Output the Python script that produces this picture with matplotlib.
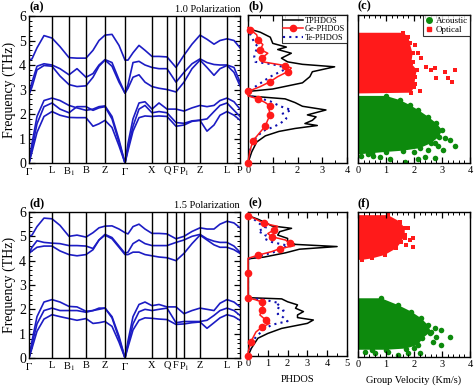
import matplotlib
matplotlib.use("Agg")
import matplotlib.pyplot as plt
from matplotlib.lines import Line2D
from matplotlib.ticker import MultipleLocator

plt.rcParams['font.family'] = ['Liberation Serif', 'DejaVu Serif']
plt.rcParams['mathtext.fontset'] = 'stix'

# ---------------- band structure data ----------------
# path coordinate (arbitrary units along the k-path)
kpath = [0, 3, 8, 15, 23, 31, 40, 48, 57, 64, 70, 76, 83, 90, 96, 99, 104, 110, 116,
         123, 130, 138, 147, 155, 163, 171, 178, 185, 191, 198, 205, 211]
sym_pos = [0, 23, 40, 57, 76, 96, 123, 138, 147, 155, 171, 198, 211]
sym_labels = [r'$\Gamma$', 'L', r'B$_1$', 'B', 'Z', r'$\Gamma$', 'X', 'Q', 'F', r'P$_1$', 'Z', 'L', 'P']

bands_10 = [
    [0, 0.45, 1.25, 1.9, 2.1, 1.95, 1.86, 1.85, 1.85, 1.5, 1.6, 1.74, 1.45, 0.7, 0, 0.5, 1.3, 1.85, 1.92,
     1.9, 1.92, 1.9, 1.5, 1.55, 1.7, 1.74, 1.3, 1.55, 1.95, 2.1, 1.95, 1.75],
    [0, 0.6, 1.6, 2.3, 2.45, 2.2, 2.05, 2.3, 2.3, 2.15, 2.25, 2.3, 1.8, 0.85, 0, 0.6, 1.5, 2.2, 2.35,
     2.05, 2.1, 2.05, 1.65, 1.62, 1.72, 1.75, 1.8, 2.1, 2.35, 2.45, 2.15, 1.9],
    [0, 0.8, 1.9, 2.55, 2.65, 2.55, 2.35, 2.25, 2.15, 2.2, 2.3, 2.33, 1.9, 0.95, 0, 0.8, 1.8, 2.45, 2.5,
     2.2, 2.45, 2.2, 2.2, 2.12, 2.25, 2.35, 2.3, 2.35, 2.55, 2.65, 2.5, 2.2],
    [2.8, 3.1, 3.8, 3.98, 3.95, 3.55, 3.2, 3.12, 3.15, 3.5, 3.95, 4.2, 3.95, 3.3, 2.85, 3.05, 3.5, 3.6, 3.3,
     3.12, 3.05, 3.0, 2.9, 3.3, 3.85, 4.2, 3.9, 3.58, 3.85, 3.98, 3.7, 3.15],
    [2.8, 3.3, 3.95, 4.05, 4.0, 3.85, 3.6, 3.85, 3.5, 3.65, 4.0, 4.22, 4.1, 3.4, 2.85, 3.2, 4.1, 4.15, 4.0,
     3.9, 3.85, 3.85, 3.3, 3.7, 4.05, 4.25, 4.1, 4.02, 4.0, 4.0, 3.9, 3.3],
    [4.2, 4.25, 4.7, 5.2, 5.1, 4.75, 4.3, 4.28, 4.28, 4.6, 5.0, 5.22, 5.25, 4.8, 4.2, 4.2, 4.5, 4.8, 4.6,
     4.35, 4.35, 4.33, 3.9, 4.4, 4.85, 5.22, 5.05, 4.85, 5.0, 5.07, 5.0, 4.7],
]

bands_15 = [
    [0, 0.4, 1.1, 1.6, 1.78, 1.7, 1.62, 1.55, 1.62, 1.42, 1.45, 1.5, 1.3, 0.65, 0, 0.45, 1.15, 1.55, 1.65,
     1.63, 1.6, 1.58, 1.38, 1.4, 1.45, 1.48, 1.22, 1.45, 1.65, 1.78, 1.7, 1.55],
    [0, 0.55, 1.4, 1.95, 2.05, 1.95, 1.95, 1.95, 1.88, 1.95, 2.0, 2.05, 1.65, 0.8, 0, 0.55, 1.4, 1.9, 2.0,
     1.95, 2.0, 2.05, 1.45, 1.5, 1.5, 1.5, 1.55, 1.75, 1.95, 2.05, 1.95, 1.75],
    [0, 0.7, 1.7, 2.3, 2.4, 2.3, 2.12, 2.1, 1.92, 1.95, 2.05, 2.05, 1.7, 0.9, 0, 0.7, 1.7, 2.2, 2.3,
     2.15, 2.2, 2.1, 2.1, 1.82, 1.95, 2.05, 2.0, 1.95, 2.25, 2.4, 2.3, 2.1],
    [4.3, 4.4, 4.55, 4.6, 4.6, 4.4, 4.25, 4.2, 4.25, 4.45, 4.85, 5.05, 4.9, 4.55, 4.25, 4.25, 4.35, 4.35, 4.25,
     4.2, 4.15, 4.12, 4.0, 4.3, 4.7, 5.05, 4.85, 4.65, 4.55, 4.55, 4.45, 4.3],
    [4.3, 4.55, 4.82, 4.75, 4.72, 4.7, 4.62, 4.62, 4.6, 4.5, 4.85, 5.08, 4.95, 4.6, 4.3, 4.35, 4.7, 4.85, 4.7,
     4.62, 4.62, 4.62, 4.75, 4.85, 5.0, 5.08, 4.9, 4.8, 4.75, 4.75, 4.6, 4.35],
    [5.0, 5.05, 5.4, 5.75, 5.72, 5.45, 5.0, 5.05, 4.97, 5.15, 5.35, 5.42, 5.43, 5.3, 5.15, 5.1, 5.4, 5.5, 5.3,
     5.12, 5.12, 5.1, 4.9, 5.0, 5.2, 5.35, 5.3, 5.3, 5.5, 5.62, 5.55, 5.35],
]

# ---------------- PHDOS data (frequency, dos) ----------------
tot_f_10 = [0, 0.45, 0.85, 1.1, 1.28, 1.4, 1.52, 1.6, 1.73, 1.87, 1.95, 2.15, 2.3, 2.45, 2.6, 2.68, 2.72,
            2.9, 3.0, 3.25, 3.5, 3.7, 3.9, 4.0, 4.1, 4.25, 4.45, 4.6, 4.7, 4.85, 5.1, 5.3, 5.45]
tot_d_10 = [0, 0.15, 0.35, 0.7, 1.25, 1.9, 2.8, 2.3, 2.6, 2.75, 2.4, 3.15, 2.2, 1.9, 1.5, 0.5, 0,
            0, 1.0, 2.2, 2.5, 2.6, 3.5, 2.2, 1.6, 1.35, 1.75, 1.2, 1.55, 1.0, 0.9, 0.5, 0]
ge_f_10 = [0, 0.5, 0.9, 1.2, 1.5, 1.75, 1.95, 2.15, 2.3, 2.45, 2.6, 2.72,
           2.9, 3.1, 3.3, 3.5, 3.7, 3.85, 3.95, 4.1, 4.25, 4.45, 4.6, 4.8, 5.0, 5.2, 5.4, 5.5]
ge_d_10 = [0, 0.08, 0.2, 0.45, 0.7, 0.8, 0.9, 0.85, 0.9, 0.7, 0.4, 0,
           0, 0.5, 0.9, 1.2, 1.6, 1.75, 1.5, 0.6, 0.55, 0.8, 0.5, 0.6, 0.4, 0.35, 0.1, 0]
te_f_10 = [0, 0.6, 1.0, 1.3, 1.45, 1.6, 1.8, 2.0, 2.15, 2.3, 2.5, 2.65, 2.72,
           2.9, 3.1, 3.3, 3.5, 3.7, 3.85, 4.0, 4.1, 4.3, 4.5, 4.7, 4.9, 5.1, 5.3, 5.4]
te_d_10 = [0, 0.1, 0.3, 0.6, 1.0, 1.3, 1.55, 1.4, 1.75, 1.3, 0.9, 0.4, 0,
           0, 0.3, 0.6, 0.9, 1.3, 1.6, 1.0, 0.3, 0.25, 0.3, 0.4, 0.25, 0.15, 0.05, 0]

tot_f_15 = [0, 0.32, 0.74, 0.94, 1.15, 1.36, 1.5, 1.6, 1.71, 1.85, 1.99, 2.13, 2.26, 2.38, 2.43,
            4.05, 4.12, 4.3, 4.45, 4.56, 4.65, 4.76, 4.9, 5.04, 5.18, 5.32, 5.42, 5.55, 5.7, 5.85]
tot_d_15 = [0, 0.17, 0.5, 1.0, 1.7, 3.0, 3.3, 2.5, 2.5, 2.8, 2.4, 2.5, 2.0, 1.7, 0,
            0, 0.8, 1.9, 2.6, 4.5, 2.4, 2.0, 2.0, 1.5, 1.6, 2.2, 1.2, 0.9, 0.5, 0]
ge_f_15 = [0, 0.2, 0.6, 1.0, 1.2, 1.36, 1.5, 1.71, 1.9, 2.1, 2.25, 2.35, 2.42, 2.96, 3.44,
           4.07, 4.2, 4.35, 4.47, 4.6, 4.7, 4.83, 4.97, 5.1, 5.25, 5.4, 5.53, 5.7, 5.85]
ge_d_15 = [0, 0.02, 0.15, 0.4, 0.7, 1.1, 0.9, 0.6, 0.7, 0.75, 0.7, 0.35, 0, 0, 0,
           0, 0.5, 1.2, 1.6, 2.35, 2.1, 1.9, 1.2, 1.0, 1.3, 1.5, 0.8, 0.4, 0]
te_f_15 = [0, 0.4, 0.8, 1.1, 1.3, 1.45, 1.6, 1.75, 1.9, 2.05, 2.2, 2.35, 2.42,
           4.05, 4.15, 4.3, 4.45, 4.6, 4.75, 4.9, 5.05, 5.2, 5.35, 5.5, 5.7, 5.85]
te_d_15 = [0, 0.1, 0.4, 0.8, 1.2, 2.0, 1.8, 1.5, 1.8, 1.4, 1.6, 0.8, 0,
           0, 0.5, 1.2, 1.7, 2.0, 1.2, 0.8, 0.9, 0.5, 0.9, 0.6, 0.3, 0]

# ---------------- group velocity data (velocity, frequency) ----------------
# outlines of the dense point clouds
opt_cloud_v_10 = [0, 1.6, 1.8, 1.85, 1.95, 1.9, 2.1, 2.05, 2.0, 1.9, 0]
opt_cloud_f_10 = [5.28, 5.28, 5.12, 4.85, 4.44, 4.04, 3.77, 3.5, 3.09, 2.85, 2.82]
ac_cloud_v_10 = [0, 1.0, 1.5, 1.85, 2.15, 2.5, 2.8, 3.0, 2.9, 2.6, 2.2, 1.6, 1.0, 0.5, 0]
ac_cloud_f_10 = [2.72, 2.72, 2.55, 2.35, 2.15, 1.88, 1.61, 1.34, 1.07, 0.8, 0.6, 0.5, 0.45, 0.4, 0.35]
# isolated points
opt_pts_v_10 = [2.14, 2.26, 2.44, 2.62, 2.74, 3.10, 3.45, 2.80, 3.21, 3.36, 2.02, 1.96, 2.05, 2.2]
opt_pts_f_10 = [4.44, 4.24, 3.90, 3.77, 3.84, 3.70, 3.77, 3.43, 3.43, 3.30, 4.78, 4.11, 3.2, 2.9]
ac_pts_v_10 = [3.1, 3.27, 3.45, 2.74, 2.86, 3.04, 2.5, 2.0, 2.38, 2.75, 0.36, 0.77, 1.13, 1.67, 2.14, 0.1, 0.55]
ac_pts_f_10 = [1.0, 0.94, 0.67, 0.8, 0.67, 0.53, 0.53, 0.45, 0.26, 0.2, 0.37, 0.26, 0.15, 0.05, 0.18, 0.3, 0.3]

opt_cloud_v_15 = [0, 1.07, 1.5, 1.67, 1.67, 1.55, 1.37, 0.95, 0.5, 0.15, 0]
opt_cloud_f_15 = [5.87, 5.87, 5.6, 5.32, 5.05, 4.77, 4.5, 4.22, 4.08, 4.02, 4.02]
ac_cloud_v_15 = [0, 0.83, 1.43, 1.9, 2.26, 2.5, 2.6, 2.3, 2.15, 1.7, 1.0, 0.5, 0]
ac_cloud_f_15 = [2.43, 2.43, 2.15, 1.88, 1.6, 1.32, 1.05, 0.77, 0.5, 0.35, 0.3, 0.3, 0.3]
opt_pts_v_15 = [1.79, 1.67, 1.85, 1.96, 1.73, 1.96]
opt_pts_f_15 = [5.32, 4.91, 4.84, 4.91, 4.64, 4.57]
ac_pts_v_15 = [2.74, 2.98, 3.27, 2.56, 2.8, 2.68, 2.98, 2.0, 0.24, 0.6, 1.07, 1.43, 1.79, 2.2]
ac_pts_f_15 = [1.19, 1.12, 0.84, 0.98, 0.84, 0.63, 0.5, 0.36, 0.22, 0.15, 0.22, 0.1, 0.15, 0.15]

BLUE = '#1c1cc4'
RED = '#ff1a1a'
GREEN = '#0d8a0d'
W, H = 474, 388


def rect(l, t, r, b):
    return [l / W, 1 - b / H, (r - l) / W, (b - t) / H]


def ticks_in(ax):
    ax.tick_params(which='both', direction='in', top=True, right=True, labelsize=7.5, pad=2)
    ax.tick_params(which='major', length=4, width=0.9)
    ax.tick_params(which='minor', length=2, width=0.7)
    for s in ax.spines.values():
        s.set_linewidth(1.0)


def band_panel(ax, bands, pol):
    for b in bands:
        ax.plot(kpath, b, color=BLUE, lw=1.2)
    for p in sym_pos[1:-1]:
        ax.axvline(p, color='black', lw=1.0)
    ax.set_xlim(0, 211)
    ax.set_ylim(0, 6)
    ax.set_xticks(sym_pos)
    ax.set_xticklabels(sym_labels, fontsize=7)
    ax.yaxis.set_major_locator(MultipleLocator(1))
    ax.yaxis.set_minor_locator(MultipleLocator(0.2))
    ticks_in(ax)
    ax.tick_params(axis='x', which='both', length=0)
    ax.tick_params(axis='y', labelsize=10)
    ax.set_ylabel('Frequency (THz)', fontsize=10, labelpad=2)
    ax.text(1.0, 1.015, pol, transform=ax.transAxes, ha='right', va='bottom', fontsize=7.5)


def dos_panel(ax, tf, td, gf, gd, ef, ed, xmax, legend):
    ax.plot(td, tf, color='black', lw=1.1, label='TPHDOS')
    ax.plot(gd, gf, color=RED, lw=1.1, marker='o', ms=4.5, markevery=2, clip_on=False,
            zorder=3, label='Ge-PHDOS')
    ax.plot(ed, ef, color='#1010b0', lw=1.5, ls=(0, (1, 2)), label='Te-PHDOS')
    ax.set_xlim(0, xmax)
    ax.set_ylim(0, 6)
    ax.set_yticks([])
    ax.xaxis.set_major_locator(MultipleLocator(1))
    ax.xaxis.set_minor_locator(MultipleLocator(0.5))
    ticks_in(ax)
    if legend:
        lg = ax.legend(loc='upper right', fontsize=6, frameon=True, fancybox=False,
                       edgecolor='black', borderpad=0.2, labelspacing=0.05,
                       handlelength=2.3, handletextpad=0.3, borderaxespad=0.0)
        lg.get_frame().set_linewidth(0.8)


def vel_panel(ax, ocv, ocf, acv, acf, opv, opf, apv, apf, legend):
    ax.fill(ocv, ocf, color=RED, lw=0)
    ax.fill(acv, acf, color=GREEN, lw=0)
    # ragged cloud edges
    ax.scatter(ocv[1:-1], ocf[1:-1], marker='s', s=12, color=RED, lw=0)
    ax.scatter(acv[1:-1], acf[1:-1], marker='o', s=16, color=GREEN, lw=0)
    ax.scatter(opv, opf, marker='s', s=12, color=RED, lw=0)
    ax.scatter(apv, apf, marker='o', s=16, color=GREEN, lw=0)
    ax.set_xlim(0, 4)
    ax.set_ylim(0, 6)
    ax.set_yticks([])
    ax.xaxis.set_major_locator(MultipleLocator(1))
    ax.xaxis.set_minor_locator(MultipleLocator(0.2))
    ticks_in(ax)
    if legend:
        handles = [Line2D([], [], ls='none', marker='o', ms=4, color=GREEN),
                   Line2D([], [], ls='none', marker='s', ms=3.5, color=RED)]
        lg = ax.legend(handles, ['Acoustic', 'Optical'], loc='upper right', fontsize=6.5,
                       frameon=True, fancybox=False, edgecolor='black', borderpad=0.2,
                       labelspacing=0.05, handlelength=0.8, handletextpad=0.4,
                       borderaxespad=0.0)
        lg.get_frame().set_linewidth(0.8)


fig = plt.figure(figsize=(W / 100, H / 100), dpi=100)

ax_a = fig.add_axes(rect(29, 16, 240, 163))
ax_b = fig.add_axes(rect(248, 15, 347, 163))
ax_c = fig.add_axes(rect(358, 15, 470, 163))
ax_d = fig.add_axes(rect(29, 212, 240, 358))
ax_e = fig.add_axes(rect(248, 212, 347, 356))
ax_f = fig.add_axes(rect(358, 212, 470, 357))

band_panel(ax_a, bands_10, '1.0 Polarization')
band_panel(ax_d, bands_15, '1.5 Polarization')
dos_panel(ax_b, tot_f_10, tot_d_10, ge_f_10, ge_d_10, te_f_10, te_d_10, 4, True)
dos_panel(ax_e, tot_f_15, tot_d_15, ge_f_15, ge_d_15, te_f_15, te_d_15, 5, False)
vel_panel(ax_c, opt_cloud_v_10, opt_cloud_f_10, ac_cloud_v_10, ac_cloud_f_10,
          opt_pts_v_10, opt_pts_f_10, ac_pts_v_10, ac_pts_f_10, True)
vel_panel(ax_f, opt_cloud_v_15, opt_cloud_f_15, ac_cloud_v_15, ac_cloud_f_15,
          opt_pts_v_15, opt_pts_f_15, ac_pts_v_15, ac_pts_f_15, False)

ax_e.set_xlabel('PHDOS', fontsize=7.5, labelpad=5)
ax_f.set_xlabel('Group Velocity (Km/s)', fontsize=7.5, labelpad=5)

for ax, lab in zip([ax_a, ax_b, ax_c, ax_d, ax_e, ax_f], ['(a)', '(b)', '(c)', '(d)', '(e)', '(f)']):
    ax.text(0.0, 1.02, lab, transform=ax.transAxes, ha='left', va='bottom',
            fontsize=9, fontweight='bold')

fig.savefig('out.png', dpi=100)
